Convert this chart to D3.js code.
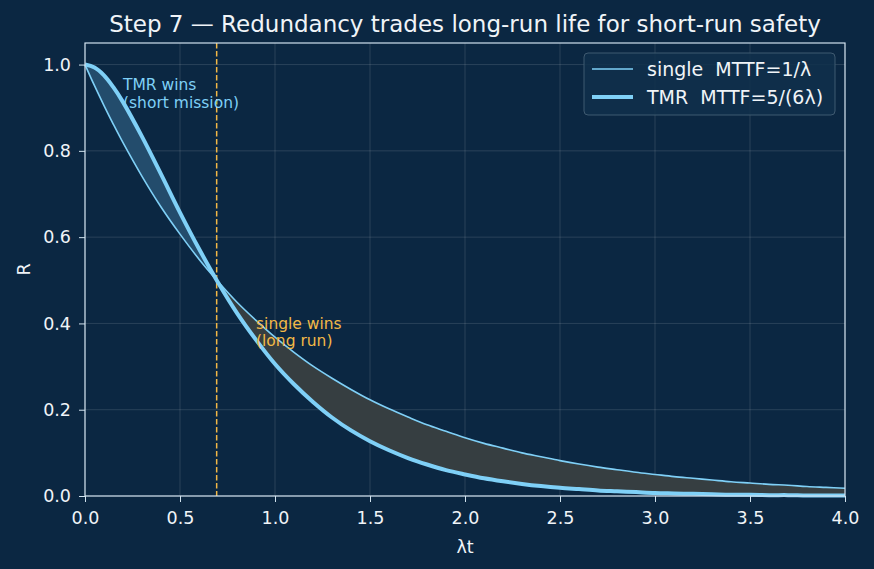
<!DOCTYPE html>
<html>
<head>
<meta charset="utf-8">
<script src="https://cdn.jsdelivr.net/npm/d3@7"></script>
<style>
  body { margin: 0; background: #0b2742; }
  text { font-family: "DejaVu Sans", sans-serif; white-space: pre; }
</style>
</head>
<body>
<div id="chart"></div>
<script>
// λt sample points
const lambdaT = [0.0, 0.05, 0.1, 0.15, 0.2, 0.3, 0.4, 0.5, 0.6, 0.7, 0.8, 0.9,
    1.0, 1.1, 1.2, 1.3, 1.4, 1.5, 1.6, 1.7, 1.8, 1.9,
    2.0, 2.1, 2.2, 2.3, 2.4, 2.5, 2.6, 2.7, 2.8, 2.9,
    3.0, 3.1, 3.2, 3.3, 3.4, 3.5, 3.6, 3.7, 3.8, 3.9, 4.0];

// reliability of a single unit
const singleR = [1.000, 0.951, 0.905, 0.861, 0.819, 0.741, 0.670, 0.607, 0.549, 0.497, 0.449, 0.407,
    0.368, 0.333, 0.301, 0.273, 0.247, 0.223, 0.202, 0.183, 0.165, 0.150,
    0.135, 0.122, 0.111, 0.100, 0.091, 0.082, 0.074, 0.067, 0.061, 0.055,
    0.050, 0.045, 0.041, 0.037, 0.033, 0.030, 0.027, 0.025, 0.022, 0.020, 0.018];

// reliability of TMR
const tmrR = [1.000, 0.993, 0.975, 0.947, 0.913, 0.833, 0.746, 0.657, 0.573, 0.495, 0.424, 0.362,
    0.306, 0.259, 0.218, 0.182, 0.152, 0.127, 0.106, 0.088, 0.073, 0.060,
    0.050, 0.041, 0.034, 0.028, 0.023, 0.019, 0.016, 0.013, 0.011, 0.009,
    0.007, 0.006, 0.005, 0.004, 0.003, 0.003, 0.002, 0.002, 0.001, 0.001, 0.001];

const crossover = 0.693;
const xTicks = [0.0, 0.5, 1.0, 1.5, 2.0, 2.5, 3.0, 3.5, 4.0];
const yTicks = [0.0, 0.2, 0.4, 0.6, 0.8, 1.0];

const data = lambdaT.map((t, i) => ({t: t, s: singleR[i], m: tmrR[i]}));

// set the dimensions and margins of the graph
const W = 874, H = 569;
const margin = {top: 43, right: 29, bottom: 73, left: 85},
    width = W - margin.left - margin.right,
    height = H - margin.top - margin.bottom;

const lineColor = "#7fd0f7";
const orange = "#f2b846";
const fg = "#f0f4f8";

const root = d3.select("#chart")
    .append("svg")
    .attr("width", W)
    .attr("height", H)
    .style("background", "#0b2742");

const svg = root.append("g")
    .attr("transform", `translate(${margin.left},${margin.top})`);

const x = d3.scaleLinear().domain([0, 4]).range([0, width]);
const y = d3.scaleLinear().domain([0, 1.05]).range([height, 0]);

// grid
svg.append("g")
    .selectAll("line")
    .data(xTicks)
    .join("line")
    .attr("x1", d => x(d)).attr("x2", d => x(d))
    .attr("y1", 0).attr("y2", height)
    .attr("stroke", "#ffffff").attr("stroke-opacity", 0.16).attr("stroke-width", 0.8);
svg.append("g")
    .selectAll("line")
    .data(yTicks)
    .join("line")
    .attr("x1", 0).attr("x2", width)
    .attr("y1", d => y(d)).attr("y2", d => y(d))
    .attr("stroke", "#ffffff").attr("stroke-opacity", 0.16).attr("stroke-width", 0.8);

// clip paths to split the band at the crossover
const defs = root.append("defs");
defs.append("clipPath").attr("id", "leftClip")
    .append("rect").attr("x", 0).attr("y", 0).attr("width", x(crossover)).attr("height", height);
defs.append("clipPath").attr("id", "rightClip")
    .append("rect").attr("x", x(crossover)).attr("y", 0).attr("width", width - x(crossover)).attr("height", height);

const curve = d3.curveCatmullRom.alpha(0.5);

const band = d3.area()
    .x(d => x(d.t))
    .y0(d => y(d.s))
    .y1(d => y(d.m))
    .curve(curve);

svg.append("path")
    .datum(data)
    .attr("d", band)
    .attr("clip-path", "url(#leftClip)")
    .attr("fill", "#234c6c");
svg.append("path")
    .datum(data)
    .attr("d", band)
    .attr("clip-path", "url(#rightClip)")
    .attr("fill", "#363e41");

// crossover line
svg.append("line")
    .attr("x1", x(crossover)).attr("x2", x(crossover))
    .attr("y1", 0).attr("y2", height)
    .attr("stroke", orange)
    .attr("stroke-width", 1.5)
    .attr("stroke-dasharray", "5.5,2.5");

// curves
const lineS = d3.line().x(d => x(d.t)).y(d => y(d.s)).curve(curve);
const lineM = d3.line().x(d => x(d.t)).y(d => y(d.m)).curve(curve);

svg.append("path").datum(data).attr("d", lineS)
    .attr("fill", "none").attr("stroke", lineColor).attr("stroke-width", 1.6);
svg.append("path").datum(data).attr("d", lineM)
    .attr("fill", "none").attr("stroke", lineColor).attr("stroke-width", 4);

// annotations
const ann1 = svg.append("text")
    .attr("x", x(0.2)).attr("y", y(0.94))
    .attr("fill", lineColor).style("font-size", "15.5px");
ann1.append("tspan").attr("x", x(0.2)).attr("dy", 0).text("TMR wins");
ann1.append("tspan").attr("x", x(0.2)).attr("dy", "1.12em").text("(short mission)");

const ann2 = svg.append("text")
    .attr("x", x(0.9)).attr("y", y(0.387))
    .attr("fill", orange).style("font-size", "15.5px");
ann2.append("tspan").attr("x", x(0.9)).attr("dy", 0).text("single wins");
ann2.append("tspan").attr("x", x(0.9)).attr("dy", "1.12em").text("(long run)");

// axes
const xAxis = svg.append("g")
    .attr("transform", `translate(0, ${height})`)
    .call(d3.axisBottom(x).tickValues(xTicks).tickFormat(d3.format(".1f")).tickSize(6).tickPadding(10));
const yAxis = svg.append("g")
    .call(d3.axisLeft(y).tickValues(yTicks).tickFormat(d3.format(".1f")).tickSize(6).tickPadding(8));

[xAxis, yAxis].forEach(a => {
    a.select(".domain").remove();
    a.selectAll("line").attr("stroke", "#d0e2ee");
    a.selectAll("text").attr("fill", fg).style("font-size", "17.5px").style("font-family", "DejaVu Sans");
});

// frame
svg.append("rect")
    .attr("width", width).attr("height", height)
    .attr("fill", "none").attr("stroke", "#d0e2ee").attr("stroke-width", 1.2);

// axis labels
svg.append("text")
    .attr("x", width / 2).attr("y", height + 57)
    .attr("text-anchor", "middle").attr("fill", fg)
    .style("font-size", "17.5px").text("λt");
svg.append("text")
    .attr("transform", `translate(-55, ${height / 2}) rotate(-90)`)
    .attr("text-anchor", "middle").attr("fill", fg)
    .style("font-size", "17.5px").text("R");

// title
svg.append("text")
    .attr("x", width / 2).attr("y", -11)
    .attr("text-anchor", "middle").attr("fill", fg)
    .style("font-size", "23px").text("Step 7 — Redundancy trades long-run life for short-run safety");

// legend
const legend = svg.append("g").attr("transform", `translate(${width - 261}, 10)`);
legend.append("rect")
    .attr("width", 251).attr("height", 62).attr("rx", 4)
    .attr("fill", "#11304b").attr("fill-opacity", 0.85)
    .attr("stroke", "#3f5a70");
const legendItems = [
    {label: "single  MTTF=1/λ", w: 1.6},
    {label: "TMR  MTTF=5/(6λ)", w: 4}
];
legendItems.forEach((d, i) => {
    legend.append("line")
        .attr("x1", 8).attr("x2", 49)
        .attr("y1", 16 + i * 28).attr("y2", 16 + i * 28)
        .attr("stroke", lineColor).attr("stroke-width", d.w);
    legend.append("text")
        .attr("x", 63).attr("y", 16 + i * 28)
        .attr("dy", "0.35em").attr("fill", fg)
        .style("font-size", "19px").text(d.label);
});
</script>
</body>
</html>
